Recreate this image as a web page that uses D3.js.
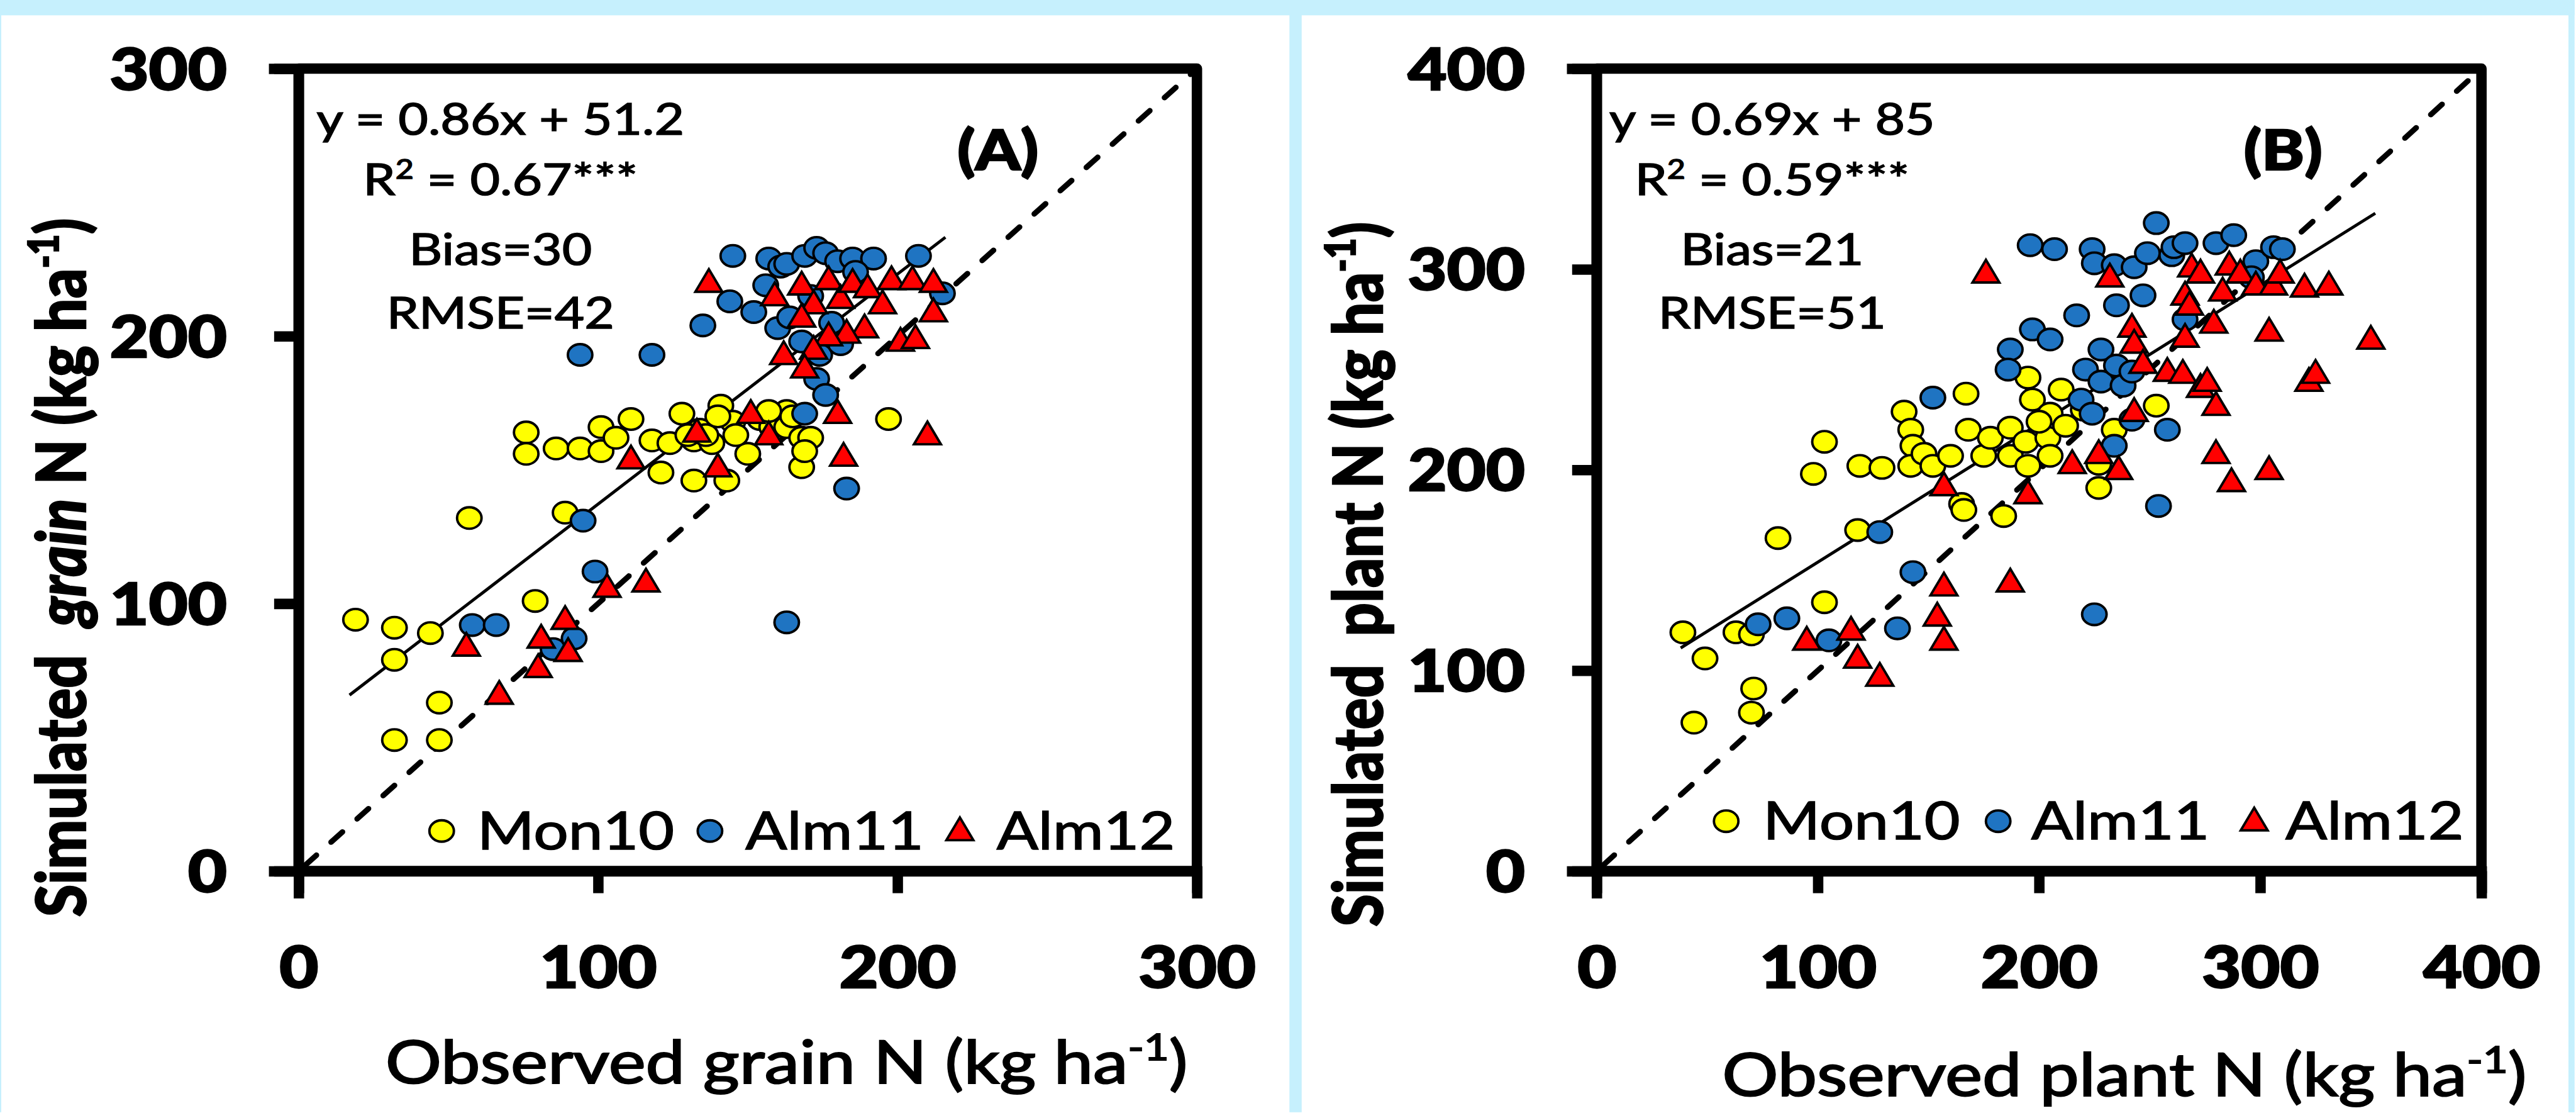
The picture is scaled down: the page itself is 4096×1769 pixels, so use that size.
<!DOCTYPE html>
<html>
<head>
<meta charset="utf-8">
<script src="https://cdn.jsdelivr.net/npm/d3@7"></script>
<style>
  body { margin: 0; background: #fff; }
  text { font-family: Lato, "Open Sans", sans-serif; }
</style>
</head>
<body>
<svg id="chart" width="4096" height="1769"></svg>
<script>
// ---- data ----
var grainMon10 = [[19,94],[32,91],[44,89],[32,79],[47,63],[32,49],[47,49],[57,132],[79,101],[89,134],
  [76,164],[76,156],[86,158],[94,158],[101,166],[101,157],[106,162],[111,169],[118,161],[121,149],
  [124,160],[128,171],[132,146],[132,161],[134,165],[138,160],[141,174],[143,146],[145,168],[150,156],
  [154,169],[158,166],[163,172],[163,166],[168,162],[171,162],[168,151],[169,157],[197,169],[136,163],
  [140,170],[146,163],[157,172],[130,163],[165,170]];
var grainAlm11 = [[58,92],[66,92],[85,83],[92,87],[95,131],[99,112],[94,193],[118,193],[135,204],[144,213],
  [145,230],[152,209],[156,219],[157,229],[161,226],[163,227],[160,203],[164,207],[169,230],[173,233],
  [176,231],[180,228],[185,229],[192,229],[207,230],[215,216],[168,198],[174,193],[173,184],[176,178],
  [169,171],[183,143],[163,93],[178,205],[181,197],[171,215],[186,224]];
var grainAlm12 = [[56,84],[67,66],[80,76],[81,87],[89,94],[90,82],[103,106],[116,108],[111,154],[140,151],
  [133,164],[151,171],[157,163],[180,171],[182,155],[210,163],[137,220],[159,215],[168,219],[172,212],
  [177,221],[181,214],[185,220],[190,218],[195,212],[198,221],[205,221],[212,220],[212,209],[201,198],
  [206,199],[189,203],[183,201],[177,200],[172,195],[169,188],[168,207],[162,193]];

var plantMon10 = [[39,119],[49,106],[44,74],[70,79],[71,91],[63,119],[70,118],[82,166],[103,134],[118,170],
  [98,198],[103,214],[119,202],[129,201],[139,229],[142,220],[143,212],[142,202],[148,208],[152,202],
  [160,207],[167,238],[168,220],[165,183],[166,180],[184,177],[175,207],[178,216],[187,221],[187,207],
  [195,246],[197,235],[195,202],[194,214],[204,216],[205,228],[212,222],[210,240],[227,191],[227,203],
  [234,220],[253,232],[205,207],[200,224],[220,230]];
var plantAlm11 = [[73,123],[86,126],[105,115],[128,169],[136,121],[143,149],[152,236],[187,260],[186,250],[197,270],
  [205,265],[217,277],[196,312],[207,310],[224,310],[225,303],[234,302],[235,282],[243,301],[247,287],
  [253,323],[249,308],[260,307],[261,311],[266,313],[280,313],[288,317],[298,304],[306,311],[310,310],
  [228,260],[221,250],[228,244],[235,252],[238,242],[242,249],[219,235],[224,228],[242,225],[234,212],
  [258,220],[254,182],[225,128],[266,275],[296,296]];
var plantAlm12 = [[95,115],[115,120],[118,106],[128,97],[154,127],[157,142],[157,115],[187,144],[176,298],[157,192],
  [195,188],[215,203],[227,208],[236,200],[232,296],[242,271],[243,263],[247,253],[243,229],[258,249],
  [265,248],[273,241],[276,244],[280,232],[280,208],[287,194],[304,200],[266,287],[268,282],[266,266],
  [279,273],[269,301],[273,298],[286,302],[291,298],[283,289],[298,292],[306,292],[304,269],[320,291],
  [331,292],[350,265],[322,244],[325,248],[309,298]];

var seriesNames = ["Mon10", "Alm11", "Alm12"];
var grainTicks = [0, 100, 200, 300];
var plantTicks = [0, 100, 200, 300, 400];
var grainStats = ["y = 0.86x + 51.2", "0.67***", "Bias=30", "RMSE=42"];
var plantStats = ["y = 0.69x + 85", "0.59***", "Bias=21", "RMSE=51"];
var grainFit = { slope: 0.86, icpt: 51.2, from: 17, to: 216 };
var plantFit = { slope: 0.69, icpt: 85, from: 38, to: 352 };

// ---- layout ----
var S = 0.974;          // reference -> window
var SX = 1.17;          // horizontal stretch seen in the reference text/markers
var LB = "#c6f0fd";
var YEL = "#ffff00", BLU = "#1f74c2", RED = "#ff0000";

var svg = d3.select("#chart");
svg.append("rect").attr("width", 4096).attr("height", 1769).attr("fill", "#fff");
var root = svg.append("g").attr("transform", "scale(" + S + ")");

// light blue frame bits
root.append("rect").attr("x", 0).attr("y", 0).attr("width", 4203).attr("height", 25).attr("fill", LB);
root.append("rect").attr("x", 2105).attr("y", 0).attr("width", 20).attr("height", 1815).attr("fill", LB);
root.append("rect").attr("x", 4193).attr("y", 0).attr("width", 10).attr("height", 1815).attr("fill", LB);
root.append("rect").attr("x", 0).attr("y", 0).attr("width", 2).attr("height", 1815).attr("fill", LB);

// text with a fake heavier weight (thin stroke) and the horizontal stretch
function addText (g, x, y, str, size, weight, anchor, thick) {
  return g.append("text")
    .attr("transform", "translate(" + x + "," + y + ") scale(" + SX + ",1)")
    .attr("font-size", size)
    .attr("font-weight", weight || "normal")
    .attr("text-anchor", anchor || "start")
    .attr("fill", "#000")
    .attr("stroke", "#000").attr("stroke-width", thick || 1.6)
    .text(str);
}

function circleMark (sel) {
  sel.append("ellipse").attr("rx", 20).attr("ry", 17.5)
    .attr("stroke", "#000").attr("stroke-width", 4);
}
function triMark (sel) {
  sel.append("path").attr("d", "M0,-22L22,15L-22,15Z")
    .attr("stroke", "#000").attr("stroke-width", 4).attr("stroke-linejoin", "miter");
}

function drawPanel (cfg) {
  var g = root.append("g");
  var x = d3.scaleLinear().domain([0, cfg.max]).range([cfg.left, cfg.right]);
  var y = d3.scaleLinear().domain([0, cfg.max]).range([cfg.bottom, cfg.top]);

  // 1:1 line
  g.append("line")
    .attr("x1", x(0)).attr("y1", y(0)).attr("x2", x(cfg.max)).attr("y2", y(cfg.max))
    .attr("stroke", "#000").attr("stroke-width", 9)
    .attr("stroke-dasharray", "25,32").attr("stroke-dashoffset", -14)
    .attr("stroke-linecap", "round");

  // regression line
  g.append("line")
    .attr("x1", x(cfg.fit.from)).attr("y1", y(cfg.fit.slope * cfg.fit.from + cfg.fit.icpt))
    .attr("x2", x(cfg.fit.to)).attr("y2", y(cfg.fit.slope * cfg.fit.to + cfg.fit.icpt))
    .attr("stroke", "#000").attr("stroke-width", 5);

  // points
  g.selectAll(".yel").data(cfg.yel).enter().append("g")
    .attr("transform", function (d) { return "translate(" + x(d[0]) + "," + y(d[1]) + ")"; })
    .attr("fill", YEL).call(circleMark);
  g.selectAll(".blu").data(cfg.blu).enter().append("g")
    .attr("transform", function (d) { return "translate(" + x(d[0]) + "," + y(d[1]) + ")"; })
    .attr("fill", BLU).call(circleMark);
  g.selectAll(".red").data(cfg.red).enter().append("g")
    .attr("transform", function (d) { return "translate(" + x(d[0]) + "," + y(d[1]) + ")"; })
    .attr("fill", RED).call(triMark);

  // frame
  g.append("rect")
    .attr("x", x(0)).attr("y", y(cfg.max))
    .attr("width", x(cfg.max) - x(0)).attr("height", y(0) - y(cfg.max))
    .attr("fill", "none").attr("stroke", "#000").attr("stroke-width", 17)
    .attr("stroke-linejoin", "round");

  // axes
  var ax = g.append("g").attr("transform", "translate(0," + y(0) + ")")
    .call(d3.axisBottom(x).tickValues(cfg.ticks).tickSizeOuter(0).tickSize(36));
  var ay = g.append("g").attr("transform", "translate(" + x(0) + ",0)")
    .call(d3.axisLeft(y).tickValues(cfg.ticks).tickSizeOuter(0).tickSize(40));
  [ax, ay].forEach(function (a) {
    a.attr("font-family", null).attr("font-size", null);
    a.select(".domain").attr("stroke-width", 17).attr("stroke-linecap", "square");
    a.selectAll(".tick line").attr("stroke-width", 17);
    a.selectAll(".tick text").attr("fill", "#000")
      .attr("stroke", "#000").attr("stroke-width", 2.5)
      .attr("font-size", 94).attr("font-weight", 900);
  });
  ax.selectAll(".tick text").attr("y", 0).attr("dy", 0)
    .attr("transform", "translate(0," + cfg.xTickBase + ") scale(" + SX + ",1)");
  ay.selectAll(".tick text").attr("x", 0).attr("dy", "0.36em")
    .attr("transform", "translate(-117,0) scale(" + SX + ",1)");

  // stats box
  var cx = cfg.annX;
  addText(g, cx, 220, cfg.stats[0], 72, "normal", "middle");
  var r2 = addText(g, cx, 318, "", 72, "normal", "middle");
  r2.text(null);
  r2.append("tspan").text("R");
  r2.append("tspan").attr("font-size", 44).attr("dy", -26).text("2");
  r2.append("tspan").attr("dy", 26).text(" = " + cfg.stats[1]);
  addText(g, cx, 432, cfg.stats[2], 72, "normal", "middle");
  addText(g, cx, 536, cfg.stats[3], 72, "normal", "middle");
  addText(g, cfg.tagX, 277, cfg.tag, 90, 900, "middle", 2.5);

  // legend
  var ly = cfg.legY;
  var lc = g.append("g").attr("transform", "translate(" + cfg.legX[0] + "," + ly + ")").attr("fill", YEL);
  circleMark(lc);
  var lb = g.append("g").attr("transform", "translate(" + cfg.legX[2] + "," + ly + ")").attr("fill", BLU);
  circleMark(lb);
  var lr = g.append("g").attr("transform", "translate(" + cfg.legX[4] + "," + ly + ")").attr("fill", RED);
  triMark(lr);
  addText(g, cfg.legX[1], ly + 30, seriesNames[0], 86, "normal", "start");
  addText(g, cfg.legX[3], ly + 30, seriesNames[1], 86, "normal", "start");
  addText(g, cfg.legX[5], ly + 30, seriesNames[2], 86, "normal", "start");

  // axis titles
  var xt = addText(g, cfg.xTitleX, cfg.xTitleY, "", 98, "normal", "middle", 2.2);
  xt.text(null);
  xt.append("tspan").text(cfg.xTitle);
  xt.append("tspan").attr("font-size", 60).attr("dy", -38).text("-1");
  xt.append("tspan").attr("dy", 38).text(")");

  var yt = g.append("text")
    .attr("transform", "translate(" + cfg.yTitleX + "," + cfg.yTitleY + ") rotate(-90) scale(1," + SX + ")")
    .attr("font-size", 96).attr("font-weight", 900).attr("text-anchor", "middle")
    .attr("stroke", "#000").attr("stroke-width", 2);
  yt.append("tspan").text("Simulated\u00a0 ");
  yt.append("tspan").attr("font-style", cfg.italic ? "italic" : "normal").text(cfg.yWord);
  yt.append("tspan").text(" N (kg ha");
  yt.append("tspan").attr("font-size", 58).attr("dy", -38).text("-1");
  yt.append("tspan").attr("dy", 38).text(")");
}

drawPanel({
  left: 487.5, right: 1954, bottom: 1421.5, top: 112, max: 300, ticks: grainTicks,
  yel: grainMon10, blu: grainAlm11, red: grainAlm12, fit: grainFit, stats: grainStats,
  annX: 817, tag: "(A)", tagX: 1629, xTickBase: 190,
  legY: 1356, legX: [721, 779, 1159, 1217, 1567, 1627],
  xTitle: "Observed grain N (kg ha", xTitleX: 1284, xTitleY: 1768,
  yWord: "grain", italic: true, yTitleX: 140, yTitleY: 926
});

drawPanel({
  left: 2606.5, right: 4051, bottom: 1421.5, top: 112, max: 400, ticks: plantTicks,
  yel: plantMon10, blu: plantAlm11, red: plantAlm12, fit: plantFit, stats: plantStats,
  annX: 2893, tag: "(B)", tagX: 3727, xTickBase: 190,
  legY: 1340, legX: [2818, 2878, 3262, 3316, 3680, 3731],
  xTitle: "Observed plant N (kg ha", xTitleX: 3468, xTitleY: 1788,
  yWord: "plant", italic: false, yTitleX: 2257, yTitleY: 937
});
</script>
</body>
</html>
